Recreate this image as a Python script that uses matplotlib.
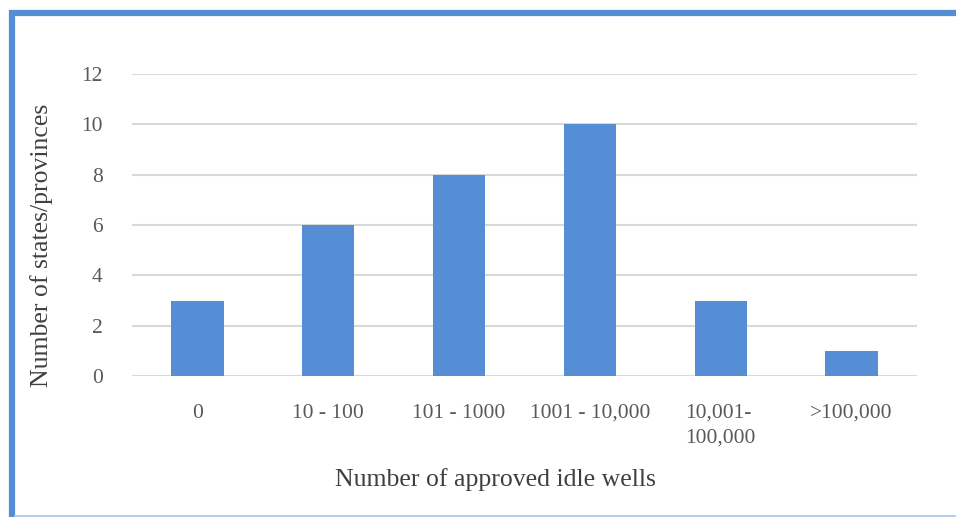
import matplotlib
matplotlib.use("Agg")
import matplotlib.pyplot as plt
from matplotlib.lines import Line2D

categories = ["0", "10 - 100", "101 - 1000", "1001 - 10,000", "10,001-\n100,000", ">100,000"]
counts = [3, 6, 8, 10, 3, 1]
yticks = [0, 2, 4, 6, 8, 10, 12]

plt.rcParams['font.family'] = ['Liberation Serif', 'DejaVu Serif']

fig = plt.figure(figsize=(9.56, 5.17), dpi=100)
ax = fig.add_axes([132/956, 1-376/517, 785/956, 302/517])

x = range(len(categories))
ax.bar(x, counts, width=0.4, color='#558ED5', zorder=3)

ax.set_xlim(-0.5, len(categories)-0.5)
ax.set_ylim(0, 12)
ax.set_yticks(yticks)
ax.set_xticks(list(x))
ax.set_xticklabels(categories, fontsize=15.5, color='#595959', va='top',
                   linespacing=1.4, multialignment='left')
ax.tick_params(axis='y', labelsize=15.5, labelcolor='#595959', length=0, pad=21)
ax.tick_params(axis='x', length=0, pad=20)
ax.grid(axis='y', color='#D9D9D9', linewidth=1.5, zorder=0)
for s in ax.spines.values():
    s.set_visible(False)

ax.set_xlabel("Number of approved idle wells", fontsize=18.5, color='#404040')
ax.set_ylabel("Number of states/provinces", fontsize=18.5, color='#404040')
ax.xaxis.set_label_coords(0.4624, -0.305)
ax.yaxis.set_label_coords(-0.1006, 0.434)

# frame lines around the picture
W, H = 956, 517
fig.add_artist(Line2D([12/W, 12/W], [0, 1-10/H], color='#558ED5', linewidth=4.5, transform=fig.transFigure, solid_capstyle='butt'))
fig.add_artist(Line2D([9/W, 1], [1-13/H, 1-13/H], color='#558ED5', linewidth=4.5, transform=fig.transFigure, solid_capstyle='butt'))
fig.add_artist(Line2D([15/W, 1], [1-515.5/H, 1-515.5/H], color='#A9C6EC', linewidth=1.2, transform=fig.transFigure))

fig.savefig("out.png", dpi=100)
